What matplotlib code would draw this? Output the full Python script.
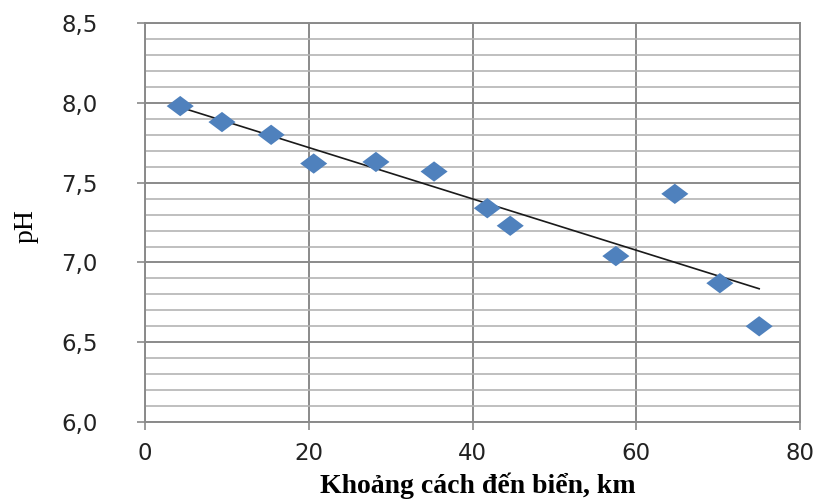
import numpy as np
import matplotlib
matplotlib.use("Agg")
import matplotlib.pyplot as plt
from matplotlib.path import Path
from matplotlib.ticker import MultipleLocator, FuncFormatter

# Distance from the sea (km) and measured pH
distance_km = [4.3, 9.4, 15.4, 20.6, 28.2, 35.3, 41.8, 44.6, 57.5, 64.7, 70.2, 75.0]
ph_values = [7.98, 7.88, 7.80, 7.62, 7.63, 7.57, 7.34, 7.23, 7.04, 7.43, 6.87, 6.60]

x_label = "Khoảng cách đến biển, km"
y_label = "pH"

fig = plt.figure(figsize=(8.23, 5.03), dpi=100)
ax = fig.add_axes([0.1762, 0.161, 0.796, 0.793])

grid_major = "#8a8a8a"
grid_minor = "#b4b4b4"

ax.set_xlim(0, 80)
ax.set_ylim(6.0, 8.5)
ax.xaxis.set_major_locator(MultipleLocator(20))
ax.yaxis.set_major_locator(MultipleLocator(0.5))
ax.yaxis.set_minor_locator(MultipleLocator(0.1))
ax.yaxis.set_major_formatter(FuncFormatter(lambda v, p: f"{v:.1f}".replace(".", ",")))
ax.xaxis.set_major_formatter(FuncFormatter(lambda v, p: f"{v:.0f}"))

ax.grid(True, which="major", axis="both", color=grid_major, lw=1.4)
ax.grid(True, which="minor", axis="y", color=grid_minor, lw=1.2)
ax.set_axisbelow(True)
for side in ["left", "right", "top", "bottom"]:
    ax.spines[side].set_color(grid_major)
    ax.spines[side].set_linewidth(1.4)

ax.tick_params(axis="y", which="major", length=6, width=1.2, color=grid_major,
               pad=28, labelsize=16.5, labelcolor="#222222")
ax.tick_params(axis="y", which="minor", length=0)
ax.tick_params(axis="x", which="major", length=5.5, width=1.2, color=grid_major,
               pad=9, labelsize=16.5, labelcolor="#222222")

# Linear trend line over the measured range
coef = np.polyfit(distance_km, ph_values, 1)
xs = np.array([min(distance_km), max(distance_km)])
ax.plot(xs, np.polyval(coef, xs), color="#1a1a1a", lw=1.2, zorder=3)

# Wide diamond marker
diamond = Path([(-1, 0), (0, 0.75), (1, 0), (0, -0.75), (-1, 0)],
               [Path.MOVETO, Path.LINETO, Path.LINETO, Path.LINETO, Path.CLOSEPOLY])
ax.scatter(distance_km, ph_values, marker=diamond, s=380, color="#4f81bd",
           edgecolors="none", zorder=4)

fig.text(0.581, 0.008, x_label, ha="center", va="bottom",
         family="Liberation Serif", fontweight="bold", fontsize=20)
fig.text(0.032, 0.55, y_label, ha="center", va="center", rotation=90,
         family="Liberation Serif", fontsize=20)

fig.savefig("out.png", dpi=100)
